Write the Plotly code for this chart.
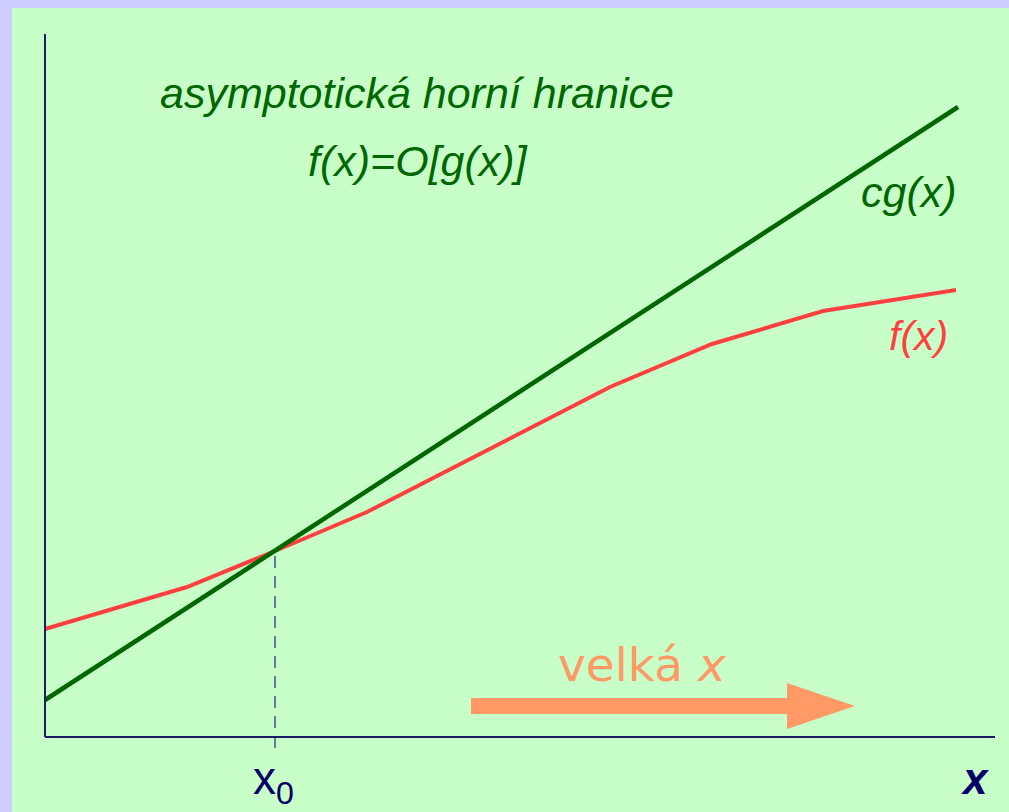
import plotly.graph_objects as go

# data units: 1 unit = 100 px, origin at axis corner
g_x = [0.0, 9.13]
g_y = [0.37, 6.30]
f_x = [0.0, 1.42, 2.30, 3.22, 5.65, 6.67, 7.78, 9.11]
f_y = [1.08, 1.50, 1.86, 2.25, 3.50, 3.93, 4.26, 4.47]
x0_val = 2.30
x0_y = 1.86
axis_x_max = 9.50
axis_y_max = 7.03
arrow_x_start = 4.26
arrow_x_head = 7.42
arrow_x_tip = 8.10
arrow_y = 0.31
arrow_shaft_half = 0.08
arrow_head_half = 0.23

GREEN = "#006600"
RED = "#ff4040"
NAVY = "#1c1c66"
ORANGE = "#ff9966"

fig = go.Figure()
fig.add_trace(go.Scatter(x=f_x, y=f_y, mode="lines",
                         line=dict(color=RED, width=4), hoverinfo="skip"))
fig.add_trace(go.Scatter(x=g_x, y=g_y, mode="lines",
                         line=dict(color=GREEN, width=4.5), hoverinfo="skip"))

# arrow polygon
ax = [arrow_x_start, arrow_x_head, arrow_x_head, arrow_x_tip, arrow_x_head, arrow_x_head, arrow_x_start, arrow_x_start]
ay = [arrow_y + arrow_shaft_half, arrow_y + arrow_shaft_half, arrow_y + arrow_head_half, arrow_y,
      arrow_y - arrow_head_half, arrow_y - arrow_shaft_half, arrow_y - arrow_shaft_half, arrow_y + arrow_shaft_half]
fig.add_trace(go.Scatter(x=ax, y=ay, mode="lines", fill="toself", fillcolor=ORANGE,
                         line=dict(color=ORANGE, width=0), hoverinfo="skip"))

shapes = [
    dict(type="rect", xref="paper", yref="paper", x0=12/1009, x1=1, y0=0, y1=1-8/812,
         fillcolor="#c8ffc8", line=dict(width=0), layer="below"),
    dict(type="line", x0=0, x1=0, y0=0, y1=axis_y_max, line=dict(color=NAVY, width=2)),
    dict(type="line", x0=0, x1=axis_x_max, y0=0, y1=0, line=dict(color=NAVY, width=2)),
    dict(type="line", x0=x0_val, x1=x0_val, y0=-0.11, y1=x0_y,
         line=dict(color="#5f7a9c", width=2, dash="12px,8px"), layer="below"),
]

ann = [
    dict(x=3.715, y=7.37-0.93, text="<i>asymptotická horní hranice</i>",
         font=dict(family="Liberation Sans, Arial", size=43, color=GREEN)),
    dict(x=3.725, y=7.37-1.61, text="<i>f(x)=O[g(x)]</i>",
         font=dict(family="Liberation Sans, Arial", size=43, color=GREEN)),
    dict(x=8.64, y=7.37-1.92, text="<i>cg(x)</i>",
         font=dict(family="Liberation Sans, Arial", size=43, color=GREEN)),
    dict(x=8.73, y=7.37-3.36, text="<i>f(x)</i>",
         font=dict(family="Liberation Sans, Arial", size=41, color=RED)),
    dict(x=5.97, y=7.37-6.64, text="velká <i>x</i>",
         font=dict(family="DejaVu Sans", size=47, color=ORANGE)),
    dict(x=2.28, y=-0.44, text="x<sub>0</sub>",
         font=dict(family="Liberation Sans, Arial", size=46, color="#000066")),
    dict(x=9.30, y=-0.41, text="<b><i>x</i></b>",
         font=dict(family="Liberation Sans, Arial", size=44, color="#000066")),
]
for a in ann:
    a.update(showarrow=False, xanchor="center", yanchor="middle")

fig.update_layout(
    width=1009, height=812,
    margin=dict(l=0, r=0, t=0, b=0),
    paper_bgcolor="#ccccff", plot_bgcolor="rgba(0,0,0,0)",
    showlegend=False,
    xaxis=dict(range=[-0.45, 9.64], visible=False, fixedrange=True),
    yaxis=dict(range=[-0.75, 7.37], visible=False, fixedrange=True),
    shapes=shapes, annotations=ann,
)
fig.write_html("out.html", config={"displayModeBar": False},
               post_script="document.body.style.margin='0';document.body.style.overflow='hidden';")
